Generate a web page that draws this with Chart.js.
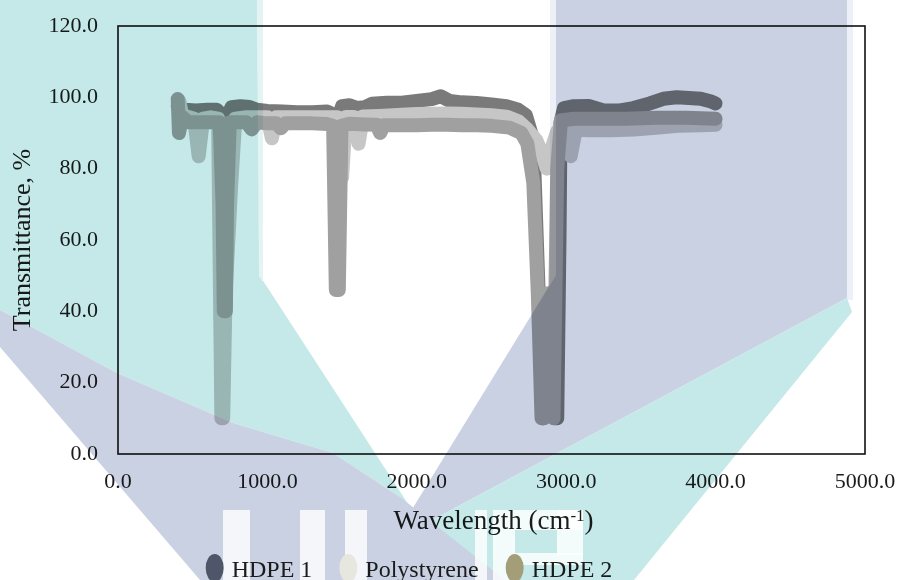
<!DOCTYPE html>
<html>
<head>
<meta charset="utf-8">
<script src="https://cdn.jsdelivr.net/npm/chart.js@4.4.1/dist/chart.umd.min.js"></script>
<style>
  html, body { margin: 0; padding: 0; background: #fff; }
  #wrap { width: 901px; height: 580px; }
</style>
</head>
<body>
<div id="wrap"><canvas id="c" width="901" height="580"></canvas></div>
<script>
// FTIR spectra (wavenumber in cm-1, transmittance in %)
const seriesNames = ["HDPE 1", "Polystyrene", "HDPE 2"]

const hdpe1X = [400,450,520,600,660,700,718,735,760,820,880,930,1000,1100,1200,1300,1400,1450,1465,1480,1500,1550,1600,1650,1700,1800,1900,2000,2100,2160,2220,2300,2400,2500,2600,2680,2730,2780,2820,2845,2880,2925,2940,2955,2962,2985,3050,3150,3250,3350,3450,3560,3650,3740,3820,3900,3970,4000]
const hdpe1Y = [97.5,96.5,96.3,96.5,96.5,95,55,95,97.2,97.5,97.3,96.5,96.2,96,95.8,95.8,96,95,62,95,97.5,97.8,97,97.2,98.2,98.5,98.5,99,99.5,100.3,99,98.6,98.4,98,97.5,96.5,95,88,40,10,45,10,10,60,93,97,97.5,97.6,96.3,96.3,97,98.3,99.6,100,99.8,99.6,98.8,98.3]

const polyX = [410,430,470,510,540,570,620,670,692,704,720,757,785,850,950,1000,1030,1060,1200,1350,1470,1500,1525,1580,1610,1640,1750,1900,2000,2100,2200,2300,2400,2500,2600,2680,2740,2800,2840,2870,2905,2940,2990,3030,3065,3150,3300,3450,3600,3750,3900,4000]
const polyY = [99,95,94.5,94,83.5,94,94.4,94,10,10,45,75,94,94.4,94.4,94.4,88.5,94.4,94.4,94.4,94.4,77.5,94.5,94.5,87,94.6,94.8,95.1,95.3,95.4,95.5,95.4,95.2,95,94.6,93.3,91,88,84,80,86,90.5,91,83.5,91,90.8,90.8,91,91.5,92,92.2,92.3]

const hdpe2X = [400,408,430,470,550,620,680,700,708,722,730,748,800,860,895,930,1000,1060,1090,1120,1200,1300,1400,1440,1458,1478,1496,1550,1650,1730,1755,1780,1900,2000,2100,2200,2300,2400,2500,2620,2700,2740,2780,2810,2835,2852,2875,2915,2940,2965,3050,3200,3400,3600,3800,4000]
const hdpe2Y = [99.5,90,94.5,93,93,93,93,70,40,40,70,93,93,93,91,93,92.7,92.7,91.3,92.7,92.7,92.7,92.5,92,46,46,92,92.6,92.4,92.3,90,92.2,92.2,92.2,92.3,92.3,92.2,92.2,92,91.5,90,87,76,45,10,10,45,10,80,93.5,94,94,94,94.3,94.3,94]

// line colour in the plot vs. marker colour shown in the legend
const lineColors = ["#7a7a7a", "#c6c6c6", "#a0a0a0"]
const legendColors = ["#4f566a", "#e8e7df", "#a49e78"]

const FONT = '"Liberation Serif", "Times New Roman", serif'
const INK = "#1b1b1b"

const toPoints = (xs, ys) => xs.map((x, i) => ({ x, y: ys[i] }))

const lineDataset = (i, xs, ys, order) => ({
  label: seriesNames[i],
  data: toPoints(xs, ys),
  borderColor: lineColors[i],
  backgroundColor: lineColors[i],
  borderWidth: 14,
  borderCapStyle: "round",
  borderJoinStyle: "round",
  pointRadius: 0,
  tension: 0,
  order, // HDPE 2 on top, HDPE 1 at the bottom
})

// page watermark (teal / lavender logo bands), multiplied over the chart
const TEAL = "#c5e9e8"
const LAV = "#c9d1e3"
const WATERMARK = [
  { c: TEAL, p: [[0,0],[257,0],[260,276],[425,530],[400,497],[333,453],[233,423],[117,373],[0,310]] },
  { c: "#e3f4f3", p: [[257,0],[263,0],[263,282],[259,276]] },
  { c: LAV, p: [[556,0],[847,0],[847,298],[395,540],[411,511],[556,275]] },
  { c: "#eef0f7", p: [[550,0],[556,0],[556,275],[550,285]] },
  { c: "#eef0f7", p: [[847,0],[853,0],[853,300],[847,300]] },
  { c: TEAL, p: [[847,298],[852,312],[634,580],[300,580],[395,540]] },
  { c: LAV, p: [[0,310],[117,373],[233,423],[333,453],[400,497],[505,580],[200,580],[0,347]] },
]
const LETTERS = [[223,510,27,70],[300,510,25,70],[345,510,22,70],[475,510,12,70],[493,510,22,70],[515,510,68,20],[557,510,26,45],[515,553,68,12]]

const buildWatermark = (w, h) => {
  const off = document.createElement("canvas")
  off.width = w
  off.height = h
  const g = off.getContext("2d")
  g.fillStyle = "#fff"
  g.fillRect(0, 0, w, h)
  for (const s of WATERMARK) {
    g.fillStyle = s.c
    g.beginPath()
    s.p.forEach(([x, y], i) => (i ? g.lineTo(x, y) : g.moveTo(x, y)))
    g.closePath()
    g.fill()
  }
  g.fillStyle = "rgba(255,255,255,0.8)"
  LETTERS.forEach(([x, y, rw, rh]) => g.fillRect(x, y, rw, rh))
  return off
}

const decor = {
  id: "decor",
  beforeDraw(chart) {
    const { ctx, width, height } = chart
    ctx.save()
    ctx.fillStyle = "#fff"
    ctx.fillRect(0, 0, width, height)
    ctx.restore()
  },
  afterDraw(chart) {
    const { ctx, chartArea: a, width, height } = chart
    ctx.save()

    // plot frame
    ctx.strokeStyle = "#111"
    ctx.lineWidth = 1.6
    ctx.strokeRect(a.left, a.top, a.right - a.left, a.bottom - a.top)

    // x title with superscript
    ctx.fillStyle = INK
    ctx.textBaseline = "alphabetic"
    const big = "27px " + FONT
    const sup = "17px " + FONT
    const p1 = "Wavelength (cm", p2 = "-1", p3 = ")"
    ctx.font = big
    const w1 = ctx.measureText(p1).width, w3 = ctx.measureText(p3).width
    ctx.font = sup
    const w2 = ctx.measureText(p2).width
    let x = (a.left + a.right) / 2 + 2 - (w1 + w2 + w3) / 2
    const base = 529
    ctx.font = big
    ctx.fillText(p1, x, base)
    x += w1
    ctx.font = sup
    ctx.fillText(p2, x, base - 8)
    x += w2
    ctx.font = big
    ctx.fillText(p3, x, base)

    // watermark
    ctx.globalCompositeOperation = "multiply"
    ctx.drawImage(buildWatermark(width, height), 0, 0)
    ctx.globalCompositeOperation = "source-over"

    // legend
    ctx.font = "24px " + FONT
    const mw = 18, gap = 8, itemGap = 27
    const widths = seriesNames.map((n) => ctx.measureText(n).width)
    const total = widths.reduce((s, w) => s + w + mw + gap, 0) + itemGap * (seriesNames.length - 1)
    let lx = 409 - total / 2
    seriesNames.forEach((n, i) => {
      ctx.fillStyle = legendColors[i]
      ctx.beginPath()
      ctx.ellipse(lx + mw / 2, 568, mw / 2, 14, 0, 0, Math.PI * 2)
      ctx.fill()
      ctx.fillStyle = INK
      ctx.fillText(n, lx + mw + gap, 577)
      lx += mw + gap + widths[i] + itemGap
    })
    ctx.restore()
  },
}

const noPad = (s) => {
  s.paddingTop = 0
  s.paddingBottom = 0
  s.paddingLeft = 0
  s.paddingRight = 0
}

new Chart(document.getElementById("c"), {
  type: "line",
  data: {
    datasets: [
      lineDataset(0, hdpe1X, hdpe1Y, 3),
      lineDataset(1, polyX, polyY, 2),
      lineDataset(2, hdpe2X, hdpe2Y, 1),
    ],
  },
  options: {
    responsive: false,
    devicePixelRatio: 1,
    animation: false,
    layout: { padding: { top: 26, right: 36, bottom: 0, left: 0 } },
    plugins: { legend: { display: false }, tooltip: { enabled: false } },
    scales: {
      x: {
        type: "linear",
        min: 0,
        max: 5000,
        grid: { display: false, drawTicks: false },
        border: { display: false },
        ticks: {
          stepSize: 1000,
          padding: 15,
          maxRotation: 0,
          color: INK,
          font: { family: FONT, size: 22 },
          callback: (v) => v.toFixed(1),
        },
        afterFit: (s) => { s.height = 126; noPad(s) },
      },
      y: {
        min: 0,
        max: 120,
        grid: { display: false, drawTicks: false },
        border: { display: false },
        ticks: {
          stepSize: 20,
          padding: 20,
          color: INK,
          font: { family: FONT, size: 22 },
          callback: (v) => v.toFixed(1),
        },
        title: {
          display: true,
          text: "Transmittance, %",
          color: INK,
          font: { family: FONT, size: 26 },
          padding: { top: 8, bottom: 0 },
        },
        afterFit: (s) => { s.width = 118; noPad(s) },
      },
    },
  },
  plugins: [decor],
})
</script>
</body>
</html>
